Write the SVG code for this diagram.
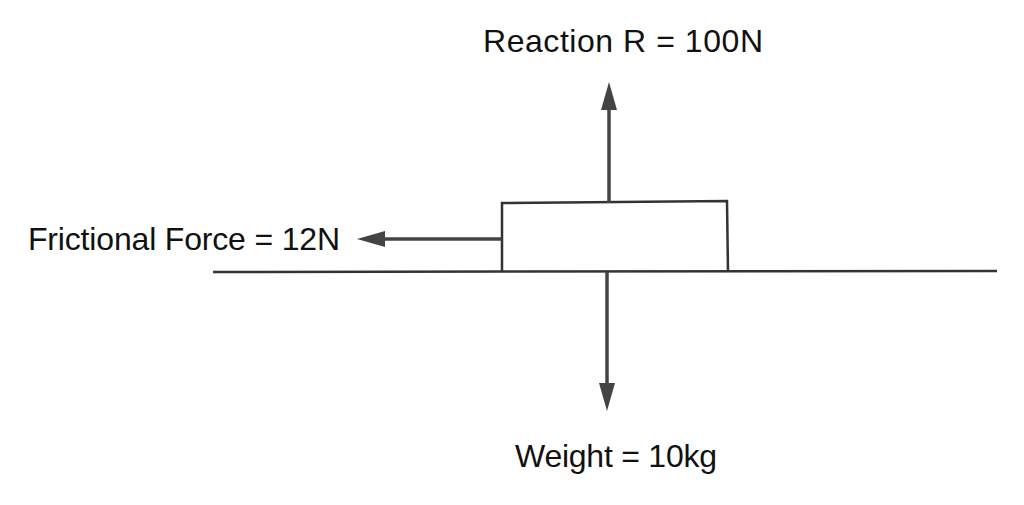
<svg xmlns="http://www.w3.org/2000/svg" width="1024" height="505" viewBox="0 0 1024 505">
<style>
.ln{stroke:#333;stroke-width:2.5;fill:none}
.ar{stroke:#444;stroke-width:3.5;fill:none}
.hd{fill:#444}
text{font-family:"Liberation Sans",Arial,sans-serif;font-size:32px;fill:#111}
</style>
<rect width="1024" height="505" fill="#fff"/>
<g id="ground"><line class="ln" x1="213" y1="272" x2="997" y2="271"/></g>
<g id="block"><polyline class="ln" points="502,272 502,203 727,201 728,272"/></g>
<g id="connectors">
<line class="ar" x1="609" y1="203" x2="609" y2="105"/>
<polygon class="hd" points="609,82 601,110 617,110"/>
<line class="ar" x1="607" y1="272" x2="607" y2="388"/>
<polygon class="hd" points="607,411 599,383 615,383"/>
<line class="ar" x1="502" y1="239" x2="380" y2="239"/>
<polygon class="hd" points="357,239 385,231 385,247"/>
</g>
<g id="labels">
<text x="623" y="52" text-anchor="middle" textLength="280">Reaction R = 100N</text>
<text x="28" y="250" textLength="312">Frictional Force = 12N</text>
<text x="616" y="467" text-anchor="middle" textLength="202">Weight = 10kg</text>
</g>
</svg>
